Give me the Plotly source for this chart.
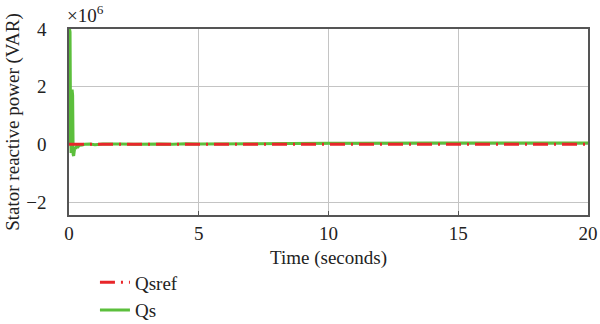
import plotly.graph_objects as go

# time (s) and reactive power (x10^6 VAR)
t_qs = [0.0, 0.02, 0.04, 0.06, 0.08, 0.1, 0.12, 0.14, 0.16, 0.18, 0.2, 0.23, 0.26, 0.3, 0.35,
        0.4, 0.5, 0.6, 0.8, 1.0, 1.3, 1.6, 2.0, 2.5, 3.0, 3.5, 4.0, 4.5, 5.0, 6.0, 7.0, 8.0,
        9.0, 10.0, 11.0, 12.0, 13.0, 14.0, 15.0, 16.0, 17.0, 18.0, 19.0, 20.0]
qs = [0.0, 4.0, 3.9, 0.6, -0.3, -0.2, 1.9, 1.7, -0.35, -0.4, -0.25, -0.1, -0.15, -0.05, -0.08,
      -0.03, -0.02, 0.0, 0.01, -0.01, 0.01, 0.0, 0.01, 0.0, 0.01, 0.01, 0.0, 0.02, 0.01, 0.02, 0.02, 0.03,
      0.03, 0.04, 0.04, 0.05, 0.04, 0.05, 0.05, 0.04, 0.05, 0.05, 0.04, 0.05]
t_ref = [0.0, 20.0]
qsref = [0.0, 0.0]

x_ticks = [0, 5, 10, 15, 20]
y_ticks = [-2, 0, 2, 4]

font = "Liberation Serif"
fs = 19

fig = go.Figure()
fig.add_trace(go.Scatter(x=t_qs, y=qs, mode="lines", name="Qs",
                         line=dict(color="#5cbf3c", width=3)))
fig.add_trace(go.Scatter(x=t_ref, y=qsref, mode="lines", name="Qsref",
                         line=dict(color="#e8262a", width=3, dash="15px,6px,2px,6px")))

fig.update_layout(
    width=600, height=324,
    margin=dict(l=69, r=12, t=29, b=109, autoexpand=False),
    paper_bgcolor="white", plot_bgcolor="white",
    font=dict(family=font, size=fs, color="#222"),
    legend=dict(x=0.05, y=-0.615, xanchor="left", yanchor="bottom",
                traceorder="reversed", font=dict(size=fs, family=font),
                bgcolor="rgba(0,0,0,0)", tracegroupgap=0),
    showlegend=True,
)
fig.update_xaxes(range=[0, 20], tickvals=x_ticks, showgrid=True, gridcolor="#c4c4c4",
                 gridwidth=1, showline=True, linecolor="#555", linewidth=1.5, mirror=True,
                 ticks="inside", ticklen=4, tickcolor="#555", zeroline=False,
                 ticklabelstandoff=0,
                 title=dict(text="Time (seconds)", standoff=8, font=dict(size=fs, family=font)))
fig.update_yaxes(range=[-2.45, 4], tickvals=y_ticks, showgrid=True, gridcolor="#c4c4c4",
                 gridwidth=1, showline=True, linecolor="#555", linewidth=1.5, mirror=True,
                 ticks="outside", ticklen=17, tickcolor="rgba(0,0,0,0)", zeroline=False,
                 title=dict(text="Stator reactive power (VAR)", standoff=2,
                            font=dict(size=fs, family=font)))
fig.add_annotation(x=0, y=1, xref="paper", yref="paper", xanchor="left", yanchor="bottom",
                   text="×10<sup>6</sup>", showarrow=False, font=dict(size=fs, family=font),
                   xshift=-4, yshift=1)
fig.write_html("out.html", post_script="document.body.style.margin='0';",
               config={"displayModeBar": False})
